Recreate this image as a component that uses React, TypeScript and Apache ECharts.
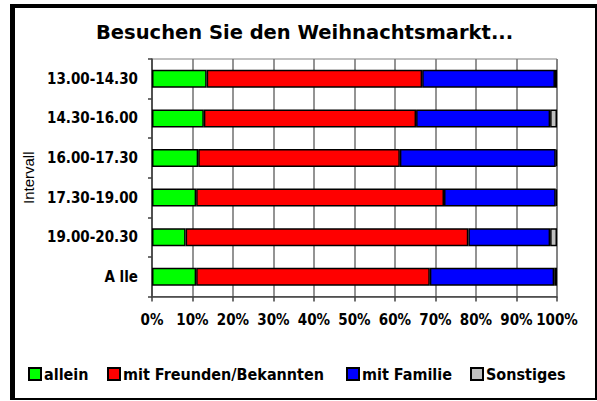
import React, { useEffect, useRef } from "react";
import * as echarts from "echarts";

const categories = ["13.00-14.30", "14.30-16.00", "16.00-17.30", "17.30-19.00", "19.00-20.30", "A lle"];
const seriesNames = ["allein", "mit Freunden/Bekannten", "mit Familie", "Sonstiges"];
const allein = [13.5, 12.8, 11.4, 10.9, 8.3, 10.9];
const freunde = [53.2, 52.4, 49.8, 61.2, 69.8, 57.7];
const familie = [32.8, 33.1, 38.5, 27.6, 20.2, 30.7];
const sonstiges = [0.5, 1.7, 0.3, 0.3, 1.7, 0.7];
const colors = ["#00ff00", "#ff0000", "#0000ff", "#c0c0c0"];
const xTicks = [0, 10, 20, 30, 40, 50, 60, 70, 80, 90, 100];
const legendLefts = [28, 107, 346, 470];

const heavy = "'DejaVu Sans Condensed', 'Liberation Sans Narrow', Arial, sans-serif";

export default function App() {
  const ref = useRef<HTMLDivElement>(null);
  useEffect(() => {
    if (!ref.current) return;
    const chart = echarts.init(ref.current, null, { renderer: "svg" });
    const data = [allein, freunde, familie, sonstiges];
    chart.setOption({
      animation: false,
      backgroundColor: "#ffffff",
      title: {
        text: "Besuchen Sie den Weihnachtsmarkt...",
        left: 96,
        top: 22,
        padding: 0,
        textStyle: {
          fontFamily: "'DejaVu Sans', Arial, sans-serif",
          fontWeight: "bold",
          fontSize: 19.5,
          color: "#000",
        },
      },
      grid: {
        left: 152,
        right: 40,
        top: 59,
        bottom: 104.5,
        show: true,
        borderColor: "#808080",
        borderWidth: 1,
      },
      legend: seriesNames.map((name, i) => ({
        data: [name],
        left: legendLefts[i],
        top: 366,
        padding: 0,
        icon: "rect",
        itemWidth: 12,
        itemHeight: 12,
        itemGap: 4,
        textStyle: {
          fontFamily: heavy,
          fontWeight: "bold",
          fontSize: 16,
          color: "#000",
          padding: [0, 0, 0, -2],
        },
      })),
      xAxis: {
        type: "value",
        min: 0,
        max: 100,
        interval: 10,
        axisLine: { show: true, lineStyle: { color: "#404040", width: 1.5 } },
        axisTick: { show: true, length: 5, lineStyle: { color: "#404040", width: 1.5 } },
        splitLine: { show: true, lineStyle: { color: "#707070", width: 1.5 } },
        axisLabel: {
          margin: 16,
          formatter: (v: number) => (xTicks.includes(v) ? v + "%" : ""),
          fontFamily: heavy,
          fontWeight: "bold",
          fontSize: 15,
          color: "#000",
        },
      },
      yAxis: {
        type: "category",
        data: categories,
        inverse: true,
        name: "Intervall",
        nameLocation: "middle",
        nameGap: 93,
        nameRotate: 90,
        nameTextStyle: {
          fontFamily: "'Liberation Sans', Arial, sans-serif",
          fontSize: 15,
          color: "#000",
        },
        axisLine: { show: true, lineStyle: { color: "#404040", width: 1.5 } },
        axisTick: { show: true, length: 4, lineStyle: { color: "#404040", width: 1.5 } },
        axisLabel: {
          margin: 14,
          fontFamily: heavy,
          fontWeight: "bold",
          fontSize: 15,
          color: "#000",
        },
      },
      series: seriesNames.map((name, i) => ({
        name,
        type: "bar",
        stack: "total",
        barWidth: 18,
        data: data[i],
        itemStyle: { color: colors[i], borderColor: "#000", borderWidth: 1.5 },
      })),
      graphic: [
        { type: "rect", shape: { x: 10, y: 4, width: 587, height: 4 }, style: { fill: "#000" } },
        { type: "rect", shape: { x: 10, y: 4, width: 5, height: 396 }, style: { fill: "#000" } },
        { type: "rect", shape: { x: 595, y: 4, width: 2, height: 396 }, style: { fill: "#000" } },
        { type: "rect", shape: { x: 10, y: 398, width: 587, height: 2 }, style: { fill: "#000" } },
      ],
    });
    return () => chart.dispose();
  }, []);
  return <div ref={ref} style={{ width: 597, height: 401, position: "absolute", left: 0, top: 0 }} />;
}
